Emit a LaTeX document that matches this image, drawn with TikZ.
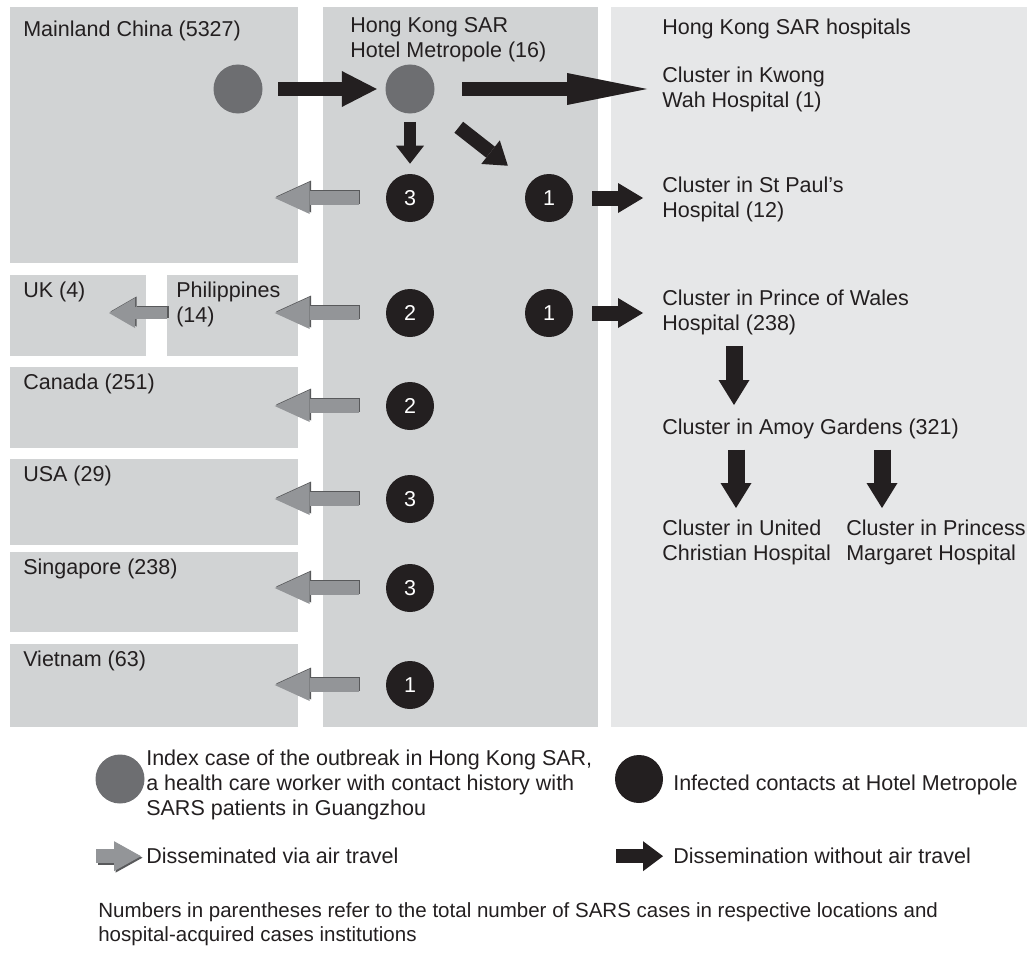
\documentclass[tikz,border=0pt]{standalone}
\usepackage{fontspec}
\setmainfont{Liberation Sans}
\usetikzlibrary{arrows.meta, positioning, calc}
\definecolor{boxgray}{HTML}{D1D3D4}
\definecolor{palegray}{HTML}{E6E7E8}
\definecolor{indexgray}{HTML}{6D6E71}
\definecolor{inkblack}{HTML}{231F20}
\definecolor{airgray}{HTML}{939598}
\definecolor{airdark}{HTML}{58595B}

\begin{document}
\begin{tikzpicture}[x=0.25mm, y=-0.25mm,
    every node/.style={font=\fontsize{15.3}{17.6}\selectfont, text=inkblack},
    region/.style={fill=#1, inner sep=0pt, anchor=north west},
    lbl/.style={anchor=north west, inner sep=0pt, align=left},
    contact/.style={circle, fill=inkblack, text=white, minimum size=12mm, inner sep=0pt},
    index/.style={circle, fill=indexgray, minimum size=12.25mm, inner sep=0pt},
    spread/.style n args={3}{draw=inkblack, line width=#1, -{Triangle[width=#2, length=#3, line width=0pt]}},
    air/.style={draw=airgray, line width=3.5mm, -{Triangle[width=8mm, length=8.75mm, line width=0pt]}},
    airshade/.style={draw=airdark, line width=3.5mm, -{Triangle[width=8mm, length=8.75mm, line width=0pt]}}]
  \useasboundingbox (0,0) rectangle (1027,967);

  % areas
  \node[region=boxgray, minimum width=72mm, minimum height=64mm] (mainland) at (10,7) {};
  \node[region=boxgray, minimum width=68.75mm, minimum height=180mm] (hotel) at (323,7) {};
  \node[region=palegray, minimum width=104mm, minimum height=180mm] (wards) at (611,7) {};
  \node[region=boxgray, minimum width=34mm, minimum height=20.25mm] (uk) at (10,275) {};
  \node[region=boxgray, minimum width=32.75mm, minimum height=20.25mm] (phil) at (167,275) {};
  \foreach \name/\y/\h/\txt in {canada/367/20.25mm/{Canada (251)}, usa/459/21.5mm/{USA (29)},
      singapore/552/20mm/{Singapore (238)}, vietnam/644/20.75mm/{Vietnam (63)}}{
    \node[region=boxgray, minimum width=72mm, minimum height=\h] (\name) at (10,\y) {};
    \node[lbl] at ($(\name.north west)+(13,7)$) {\txt};
  }

  \node[lbl] at (23,21) {Mainland China (5327)};
  \node[lbl] at (350,17) {Hong Kong SAR\\Hotel Metropole (16)};
  \node[lbl] at (662,19) {Hong Kong SAR hospitals};
  \node[lbl] at (23,282) {UK (4)};
  \node[lbl] (philtxt) at (176,282) {Philippines\\(14)};

  % hospital clusters
  \node[lbl] (kwong) at (662,67) {Cluster in Kwong\\Wah Hospital (1)};
  \node[lbl] (paul) at (662,177) {Cluster in St Paul's\\Hospital (12)};
  \node[lbl] (pow) at (662,290) {Cluster in Prince of Wales\\Hospital (238)};
  \node[lbl] (amoy) at (662,419) {Cluster in Amoy Gardens (321)};
  \node[lbl] (uch) at (662,520) {Cluster in United\\Christian Hospital};
  \node[lbl] (pmh) at (846,520) {Cluster in Princess\\Margaret Hospital};

  % index case and contacts
  \node[index] (origin) at (238,89) {};
  \node[index] (hkcase) at (410,89) {};
  \node[contact] (sp1) at (549,198) {1};
  \node[contact] (pw1) at (549,313) {1};
  \foreach \n/\y/\k in {hk3/198/3, hk2/313/2, hkca/406/2, hkus/499/3, hksg/588/3, hkvn/685/1}{
    \node[contact] (\n) at (410,\y) {\k};
    \draw[airshade] ($(\n.west)+(-25.5,-1.5)$) -- ($(\n.west)+(-109.5,-1.5)$);
    \draw[air] ($(\n.west)+(-27,0)$) -- ($(\n.west)+(-111,0)$);
  }
  \draw[airshade, line width=3mm, -{Triangle[width=7.5mm, length=6.5mm, line width=0pt]}]
    ($(phil.west |- hk2)+(1.5,-1.5)$) -- ($(phil.west |- hk2)+(-56.5,-1.5)$);
  \draw[air, line width=3mm, -{Triangle[width=7.5mm, length=6.5mm, line width=0pt]}]
    (phil.west |- hk2) -- ($(phil.west |- hk2)+(-58,0)$);

  % spread without air travel
  \draw[spread={3.5mm}{9mm}{8.75mm}, shorten <=3.9mm, shorten >=2.1mm] (origin.east) -- (hkcase.west);
  \draw[spread={3.5mm}{8mm}{20mm}, shorten <=6.9mm, shorten >=3.75mm] (hkcase.east) -- (hkcase.east -| kwong.west);
  \draw[spread={3mm}{7mm}{4.5mm}, shorten <=2mm, shorten >=2.5mm] (hkcase.south) -- (hk3.north);
  \draw[spread={3.5mm}{7.5mm}{5.5mm}, shorten <=9.3mm, shorten >=7mm] (hkcase) -- (sp1);
  \draw[spread={3.75mm}{7.5mm}{6.25mm}, shorten <=4.75mm, shorten >=4.75mm] (sp1.east) -- (sp1.east -| paul.west);
  \draw[spread={3.75mm}{7.5mm}{6.25mm}, shorten <=4.75mm, shorten >=4.75mm] (pw1.east) -- (pw1.east -| pow.west);
  \draw[spread={4.25mm}{7.75mm}{6.25mm}, shorten <=2.75mm, shorten >=3.5mm]
    ($(pow.south west)+(72,0)$) -- ($(amoy.north west)+(72,0)$);
  \draw[spread={4.25mm}{7.75mm}{6.25mm}, shorten <=2.5mm, shorten >=3mm]
    ($(amoy.south west)+(74,0)$) -- ($(uch.north west)+(74,0)$);
  \draw[spread={4.25mm}{7.75mm}{6.25mm}, shorten <=2.5mm, shorten >=3mm]
    ($(amoy.south west)+(220,0)$) -- ($(pmh.north west)+(36,0)$);

  % key
  \node[index] (keyidx) at (120,779) {};
  \node[lbl] at (146,750) {Index case of the outbreak in Hong Kong SAR,\\a health care worker with contact history with\\SARS patients in Guangzhou};
  \node[contact] (keyct) at (639,779) {};
  \node[lbl] at (673,775) {Infected contacts at Hotel Metropole};
  \node[lbl] (keyair) at (146,848) {Disseminated via air travel};
  \node[lbl] (keyground) at (673,848) {Dissemination without air travel};
  \draw[airshade, -{Triangle[width=7.5mm, length=6.75mm, line width=0pt]}]
    ($(keyair.west)+(-48.5,1.5)$) -- ($(keyair.west)+(-3.5,1.5)$);
  \draw[air, -{Triangle[width=7.5mm, length=6.75mm, line width=0pt]}]
    ($(keyair.west)+(-50,0)$) -- ($(keyair.west)+(-5,0)$);
  \draw[spread={3.5mm}{7.5mm}{5mm}] ($(keyground.west)+(-57,0)$) -- ($(keyground.west)+(-10,0)$);
  \node[lbl, font=\fontsize{14.6}{17.6}\selectfont] at (98,902) {Numbers in parentheses refer to the total number of SARS cases in respective locations and\\hospital-acquired cases institutions};
\end{tikzpicture}
\end{document}
